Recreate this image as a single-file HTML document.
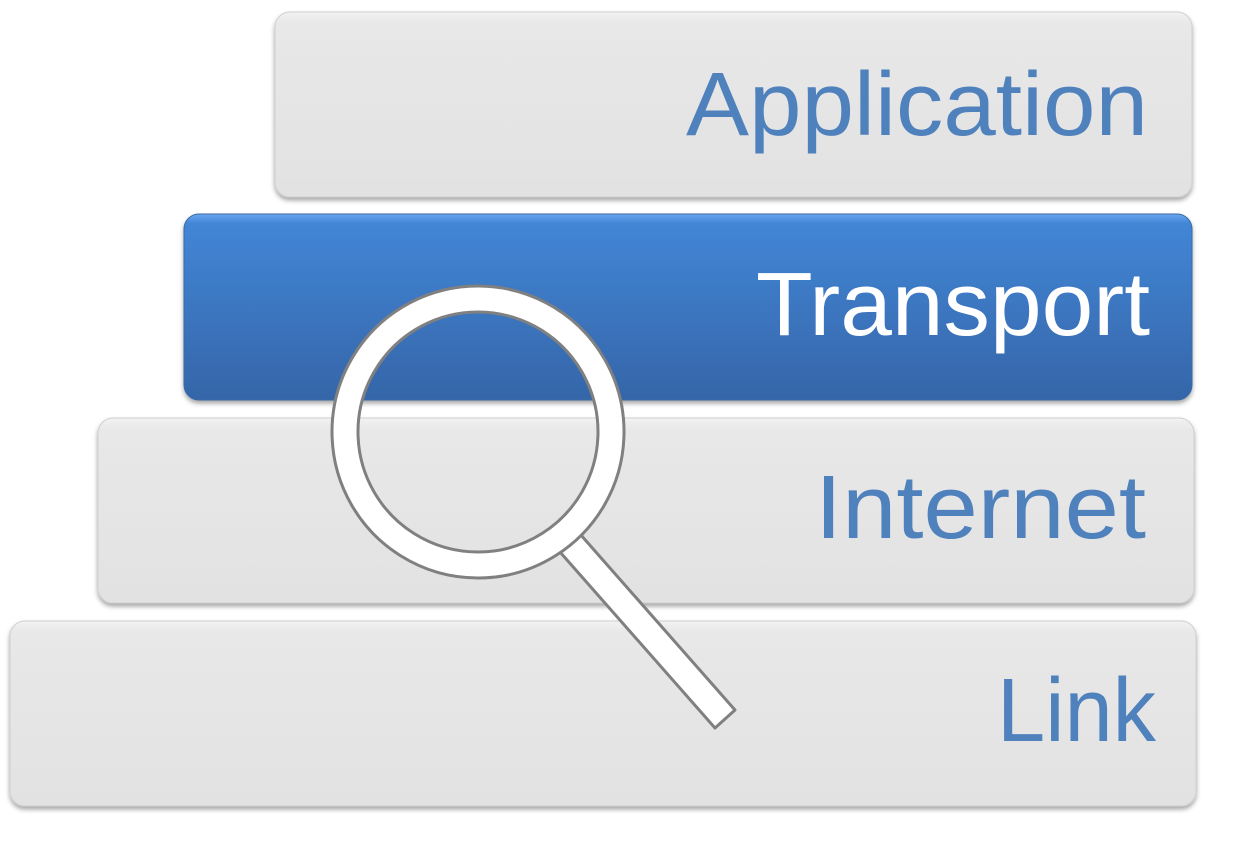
<!DOCTYPE html>
<html><head><style>html,body{margin:0;padding:0;background:#fff;}svg{display:block}</style></head>
<body>
<svg width="1241" height="844" viewBox="0 0 1241 844" xmlns="http://www.w3.org/2000/svg">
<defs>
<linearGradient id="g" x1="0" y1="0" x2="0" y2="1">
<stop offset="0" stop-color="#f2f2f2"/><stop offset="0.06" stop-color="#e8e8e8"/><stop offset="1" stop-color="#e2e2e2"/>
</linearGradient>
<linearGradient id="b" x1="0" y1="0" x2="0" y2="1">
<stop offset="0" stop-color="#6aa6ee"/><stop offset="0.05" stop-color="#4286d6"/><stop offset="1" stop-color="#3565a8"/>
</linearGradient>
<filter id="s" x="-5%" y="-10%" width="110%" height="130%">
<feDropShadow dx="0" dy="3" stdDeviation="2.5" flood-color="#000" flood-opacity="0.35"/>
</filter>
</defs>
<g filter="url(#s)">
<rect x="275" y="12" width="917" height="185" rx="15" fill="url(#g)" stroke="#d0d0d0" stroke-width="1"/>
<rect x="184" y="214" width="1008" height="186" rx="15" fill="url(#b)" stroke="#3a6aa8" stroke-width="1"/>
<rect x="98" y="418" width="1096" height="185" rx="15" fill="url(#g)" stroke="#d0d0d0" stroke-width="1"/>
<rect x="10" y="621" width="1186" height="185" rx="15" fill="url(#g)" stroke="#d0d0d0" stroke-width="1"/>
</g>
<g font-family="Liberation Sans, sans-serif" font-size="90" fill="#4f81bd">
<text x="686" y="135" textLength="462" lengthAdjust="spacingAndGlyphs">Application</text>
<text x="756" y="335" textLength="394" lengthAdjust="spacingAndGlyphs" fill="#ffffff">Transport</text>
<text x="815" y="538" textLength="331" lengthAdjust="spacingAndGlyphs">Internet</text>
<text x="997" y="741" textLength="159" lengthAdjust="spacingAndGlyphs">Link</text>
</g>
<g stroke="#808080" stroke-width="3">
<polygon points="560,552 580,534 735,710 715,728" fill="#ffffff" stroke-linejoin="round"/>
<path d="M478,286 a146,146 0 1,0 0.01,0 Z M478,312 a120,120 0 1,1 -0.01,0 Z" fill="#ffffff" fill-rule="evenodd"/>
</g>
</svg>
</body></html>
